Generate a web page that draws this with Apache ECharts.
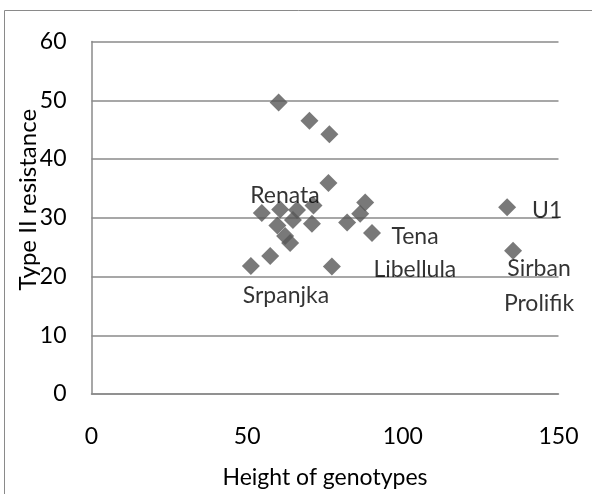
<!DOCTYPE html>
<html>
<head>
<meta charset="utf-8">
<script src="https://cdn.jsdelivr.net/npm/echarts@6/dist/echarts.min.js"></script>
<style>
  html, body { margin: 0; padding: 0; background: #fff; }
  #main { width: 592px; height: 494px; }
</style>
</head>
<body>
<div id="main"></div>
<script>
// heights and resistance values
var heights = [60.1, 70.0, 76.4, 76.1, 54.7, 60.6, 66.0, 71.3, 70.8, 59.7, 64.7,
    62.2, 63.8, 87.9, 86.3, 82.1, 90.1, 77.2, 51.2, 57.4, 133.5, 135.4];
var resistance = [49.6, 46.5, 44.2, 35.9, 30.8, 31.4, 31.3, 32.1, 29.0, 28.7, 29.6,
    26.9, 25.7, 32.6, 30.7, 29.2, 27.4, 21.7, 21.8, 23.5, 31.8, 24.4];
// names shown next to some points (index into the arrays above)
var names = ['', '', '', '', '', '', 'Renata', '', '', '', '',
    '', '', '', '', '', 'Tena', 'Libellula', 'Srpanjka', '', 'U1', 'Sirban\nProlifik'];
var xTicks = [0, 50, 100, 150];
var yTicks = [0, 10, 20, 30, 40, 50, 60];

// label offsets so the names sit where they were put by hand
var labelOffset = {
    'Renata': [-12, -15],
    'Tena': [43, 4],
    'Libellula': [83, 3],
    'Srpanjka': [35, 30],
    'U1': [40, 3],
    'Sirban\nProlifik': [26, 35]
};

var font = 'Lato';
var axisColor = '#8a8a8a';

var chart = echarts.init(document.getElementById('main'));

var points = [];
heights.forEach(function (h, i) {
    var p = { value: [h, resistance[i]], name: names[i] };
    if (names[i]) {
        p.label = {
            show: true,
            position: 'inside',
            offset: labelOffset[names[i]],
            formatter: names[i],
            color: '#000',
            fontFamily: font,
            fontSize: 23,
            lineHeight: 35,
            align: 'center',
            verticalAlign: 'middle'
        };
    }
    points.push(p);
});

var option = {
    animation: false,
    backgroundColor: '#fff',
    grid: { left: 91.5, right: 33.5, top: 41.5, bottom: 93.5 },
    xAxis: {
        type: 'value',
        min: xTicks[0],
        max: xTicks[xTicks.length - 1],
        interval: 50,
        name: 'Height of genotypes',
        nameLocation: 'middle',
        nameGap: 72,
        nameMoveOverlap: false,
        nameTextStyle: { fontFamily: font, fontSize: 23, color: '#000' },
        axisLine: { show: true, onZero: false, lineStyle: { color: axisColor, width: 1.5 } },
        axisTick: { show: false },
        splitLine: { show: false },
        axisLabel: { margin: 31, fontFamily: font, fontSize: 23, color: '#000' }
    },
    yAxis: {
        type: 'value',
        min: yTicks[0],
        max: yTicks[yTicks.length - 1],
        interval: 10,
        name: 'Type II resistance',
        nameLocation: 'middle',
        nameGap: 51,
        nameMoveOverlap: false,
        nameTextStyle: { fontFamily: font, fontSize: 24, color: '#000', padding: [0, 0, 0, 36] },
        axisLine: { show: true, lineStyle: { color: axisColor, width: 1.5 } },
        axisTick: { show: false },
        splitLine: { show: true, lineStyle: { color: axisColor, width: 1.5 } },
        axisLabel: { margin: 25, fontFamily: font, fontSize: 23, color: '#000' }
    },
    graphic: [{
        type: 'rect',
        shape: { x: 4.5, y: 10.5, width: 600, height: 500 },
        style: { fill: null, stroke: '#8a8a8a', lineWidth: 1 },
        silent: true
    }],
    series: [{
        type: 'scatter',
        symbol: 'diamond',
        symbolSize: 18,
        itemStyle: { color: '#585858' },
        data: points
    }]
};

option && chart.setOption(option);
</script>
</body>
</html>
